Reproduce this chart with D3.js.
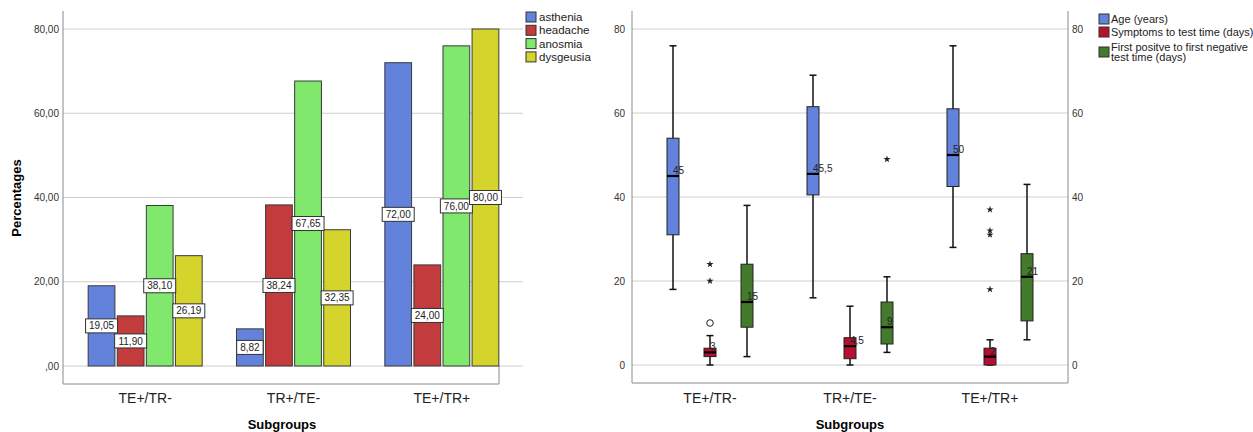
<!DOCTYPE html>
<html>
<head>
<meta charset="utf-8">
<script src="https://cdn.jsdelivr.net/npm/d3@7"></script>
<style>
  body { margin: 0; background: #fff; }
  svg { display: block; font-family: "Liberation Sans", Arial, sans-serif; }
</style>
</head>
<body>
<svg id="chart" width="1253" height="432"></svg>
<script>
// ---- data ----
const groups = ["TE+/TR-", "TR+/TE-", "TE+/TR+"];

// left: percentages per symptom
const symptoms = ["asthenia", "headache", "anosmia", "dysgeusia"];
const asthenia = [19.05, 8.82, 72.0];
const headache = [11.9, 38.24, 24.0];
const anosmia = [38.1, 67.65, 76.0];
const dysgeusia = [26.19, 32.35, 80.0];
const pctTicks = [0, 20, 40, 60, 80];

// right: boxplots [lowWhisker, q1, median, q3, highWhisker]
const boxSeries = ["Age (years)", "Symptoms to test time (days)", "First positve to first negative test time (days)"];
const ageStats = [[18, 31, 45, 54, 76], [16, 40.5, 45.5, 61.5, 69], [28, 42.5, 50, 61, 76]];
const symptomStats = [[0, 2, 3, 4, 7], [0, 1.5, 4.5, 6.5, 14], [0, 0, 2, 4, 6]];
const negativeStats = [[2, 9, 15, 24, 38], [3, 5, 9, 15, 21], [6, 10.5, 21, 26.5, 43]];
// outliers: circles (mild) and stars (extreme)
const ageMild = [[], [], []];
const ageExtreme = [[], [], []];
const symptomMild = [[10], [], []];
const symptomExtreme = [[20, 24], [], [18, 31, 32, 37]];
const negativeMild = [[], [], []];
const negativeExtreme = [[], [49], []];
const dayTicks = [0, 20, 40, 60, 80];

const barColors = ["#6282dc", "#c23b3d", "#80e86c", "#d5d42c"];
const boxColors = ["#6282dc", "#b5102f", "#437a2b"];

const fmt2 = v => d3.format(".2f")(v).replace(".", ",").replace(/^0,/, ",");
const fmtMed = v => String(v).replace(".", ",");

const svg = d3.select("#chart");
const gridColor = "#cfcfcf";
const axisColor = "#8a8a8a";

/* ***** left: bar chart ***** */
const left = svg.append("g");
const yL = d3.scaleLinear().domain([0, 80]).range([366, 29]);
const xL = d3.scaleBand().domain(groups).range([71, 516]);
const xInner = d3.scaleBand().domain(symptoms).range([-57, 57]).paddingInner(0.08);
const barValues = [asthenia, headache, anosmia, dysgeusia];

left.selectAll(".grid").data(pctTicks).join("line")
  .attr("x1", 63).attr("x2", 523)
  .attr("y1", d => yL(d)).attr("y2", d => yL(d))
  .attr("stroke", gridColor).attr("stroke-width", 1);

left.append("path")
  .attr("d", "M63,11V384H499V366")
  .attr("fill", "none").attr("stroke", axisColor).attr("stroke-width", 1);

left.selectAll(".tick").data(pctTicks).join("text")
  .attr("x", 59).attr("y", d => yL(d)).attr("dy", "0.35em")
  .attr("text-anchor", "end").attr("font-size", 10).attr("fill", "#333")
  .text(d => fmt2(d));

const bars = [];
groups.forEach((g, gi) => symptoms.forEach((s, si) => {
  bars.push({ g, s, si, v: barValues[si][gi] });
}));

left.selectAll(".bar").data(bars).join("rect")
  .attr("x", d => xL(d.g) + xL.bandwidth() / 2 + xInner(d.s))
  .attr("width", xInner.bandwidth())
  .attr("y", d => yL(d.v))
  .attr("height", d => yL(0) - yL(d.v))
  .attr("fill", d => barColors[d.si])
  .attr("stroke", "#3a3a3a").attr("stroke-width", 1);

const lab = left.selectAll(".lab").data(bars).join("g")
  .attr("transform", d => `translate(${xL(d.g) + xL.bandwidth() / 2 + xInner(d.s) + xInner.bandwidth() / 2},${yL(d.v / 2)})`);
lab.append("rect")
  .attr("x", d => -(fmt2(d.v).length * 5.6 + 4) / 2).attr("y", -7)
  .attr("width", d => fmt2(d.v).length * 5.6 + 4).attr("height", 14)
  .attr("fill", "#fff").attr("stroke", "#333").attr("stroke-width", 1);
lab.append("text")
  .attr("dy", "0.36em").attr("text-anchor", "middle")
  .attr("font-size", 10).attr("fill", "#222")
  .text(d => fmt2(d.v));

left.selectAll(".xlab").data(groups).join("text")
  .attr("x", d => xL(d) + xL.bandwidth() / 2).attr("y", 403)
  .attr("text-anchor", "middle").attr("font-size", 14).attr("fill", "#222")
  .text(d => d);

left.append("text")
  .attr("x", 282).attr("y", 429)
  .attr("text-anchor", "middle").attr("font-size", 13).attr("font-weight", "bold")
  .text("Subgroups");

left.append("text")
  .attr("transform", "translate(21,198) rotate(-90)")
  .attr("text-anchor", "middle").attr("font-size", 13).attr("font-weight", "bold")
  .text("Percentages");

const legL = left.selectAll(".leg").data(symptoms).join("g")
  .attr("transform", (d, i) => `translate(526,${17 + i * 13.3})`);
legL.append("rect")
  .attr("x", 0).attr("y", -5).attr("width", 10).attr("height", 10)
  .attr("fill", (d, i) => barColors[i]).attr("stroke", "#333");
legL.append("text")
  .attr("x", 13).attr("dy", "0.36em").attr("font-size", 11.5).attr("fill", "#222")
  .text(d => d);

/* ***** right: boxplots ***** */
const right = svg.append("g");
const yR = d3.scaleLinear().domain([0, 80]).range([365, 29]);
const xR = d3.scaleBand().domain(groups).range([640, 1060]);
const xSeries = d3.scalePoint().domain(boxSeries).range([-37, 37]);
const statsBySeries = [ageStats, symptomStats, negativeStats];
const mildBySeries = [ageMild, symptomMild, negativeMild];
const extremeBySeries = [ageExtreme, symptomExtreme, negativeExtreme];

right.selectAll(".grid").data(dayTicks).join("line")
  .attr("x1", 632).attr("x2", 1068)
  .attr("y1", d => yR(d)).attr("y2", d => yR(d))
  .attr("stroke", gridColor).attr("stroke-width", 1);

right.append("path")
  .attr("d", "M632,11V383H1068V11")
  .attr("fill", "none").attr("stroke", axisColor).attr("stroke-width", 1);

right.selectAll(".tickL").data(dayTicks).join("text")
  .attr("x", 625).attr("y", d => yR(d)).attr("dy", "0.35em")
  .attr("text-anchor", "end").attr("font-size", 10).attr("fill", "#333")
  .text(d => d);
right.selectAll(".tickR").data(dayTicks).join("text")
  .attr("x", 1072).attr("y", d => yR(d)).attr("dy", "0.35em")
  .attr("text-anchor", "start").attr("font-size", 10).attr("fill", "#333")
  .text(d => d);

const boxes = [];
groups.forEach((g, gi) => boxSeries.forEach((s, si) => {
  const [lo, q1, med, q3, hi] = statsBySeries[si][gi];
  boxes.push({ g, s, si, lo, q1, med, q3, hi,
    mild: mildBySeries[si][gi], extreme: extremeBySeries[si][gi] });
}));

const bw = 12;
const bx = right.selectAll(".box").data(boxes).join("g")
  .attr("transform", d => `translate(${xR(d.g) + xR.bandwidth() / 2 + xSeries(d.s)},0)`);

bx.append("line")
  .attr("y1", d => yR(d.hi)).attr("y2", d => yR(d.lo))
  .attr("stroke", "#111").attr("stroke-width", 1.5);
bx.selectAll(".cap").data(d => [d.hi, d.lo]).join("line")
  .attr("x1", -3.5).attr("x2", 3.5)
  .attr("y1", v => yR(v)).attr("y2", v => yR(v))
  .attr("stroke", "#111").attr("stroke-width", 1.5);
bx.append("rect")
  .attr("x", -bw / 2).attr("width", bw)
  .attr("y", d => yR(d.q3)).attr("height", d => yR(d.q1) - yR(d.q3))
  .attr("fill", d => boxColors[d.si]).attr("stroke", "#222").attr("stroke-width", 1);
bx.append("line")
  .attr("x1", -bw / 2).attr("x2", bw / 2)
  .attr("y1", d => yR(d.med)).attr("y2", d => yR(d.med))
  .attr("stroke", "#000").attr("stroke-width", 2.2);
bx.append("text")
  .attr("x", 0).attr("y", d => yR(d.med) - 2)
  .attr("font-size", 10).attr("fill", "#222")
  .text(d => fmtMed(d.med));
bx.selectAll(".mild").data(d => d.mild).join("circle")
  .attr("cy", v => yR(v)).attr("r", 3.3)
  .attr("fill", "#fff").attr("stroke", "#222").attr("stroke-width", 1);
bx.selectAll(".ext").data(d => d.extreme).join("path")
  .attr("transform", v => `translate(0,${yR(v)})`)
  .attr("d", d3.symbol(d3.symbolStar, 16))
  .attr("fill", "#222");

right.selectAll(".xlab").data(groups).join("text")
  .attr("x", d => xR(d) + xR.bandwidth() / 2).attr("y", 403)
  .attr("text-anchor", "middle").attr("font-size", 14).attr("fill", "#222")
  .text(d => d);

right.append("text")
  .attr("x", 850).attr("y", 429)
  .attr("text-anchor", "middle").attr("font-size", 13).attr("font-weight", "bold")
  .text("Subgroups");

const legRows = [19, 32, 52];
const legR = right.selectAll(".leg").data(boxSeries).join("g")
  .attr("transform", (d, i) => `translate(1099,${legRows[i]})`);
legR.append("rect")
  .attr("x", 0).attr("y", -5).attr("width", 10).attr("height", 10)
  .attr("fill", (d, i) => boxColors[i]).attr("stroke", "#333");
legR.append("text")
  .attr("x", 12).attr("font-size", 11).attr("fill", "#222")
  .each(function (d, i) {
    const lines = i === 2 ? ["First positve to first negative", "test time (days)"] : [d];
    const t = d3.select(this);
    lines.forEach((l, li) => {
      t.append("tspan").attr("x", 12)
        .attr("y", (li - (lines.length - 1) / 2) * 10.5)
        .attr("dy", "0.36em").text(l);
    });
  });
</script>
</body>
</html>
